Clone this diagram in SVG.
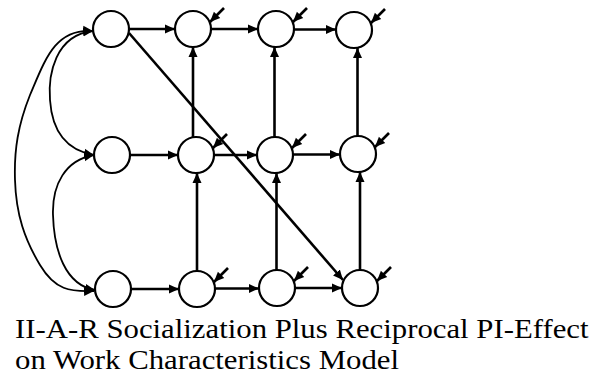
<svg xmlns="http://www.w3.org/2000/svg" width="612" height="381" viewBox="0 0 612 381">
<style>
.node circle{fill:#fff;stroke:#000;stroke-width:2.2}
.arr{stroke:#000;stroke-width:2.6;fill:none;marker-end:url(#ah)}
.err{stroke:#000;stroke-width:2.6;fill:none;marker-end:url(#ah)}
.cor{stroke:#000;stroke-width:1.8;fill:none;marker-start:url(#ah);marker-end:url(#ah)}
</style>
<defs>
<marker id="ah" markerUnits="userSpaceOnUse" markerWidth="11" markerHeight="10" refX="10" refY="5" orient="auto-start-reverse">
<path d="M0,0.5 L10,5 L0,9.5 z" fill="#000"/>
</marker>
</defs>
<g id="connectors">
<path class="cor" d="M93,31 C55,28 45,60 30,95 C18,125 14,150 15,180 C16,215 25,240 40,265 C55,290 70,292 94,291"/>
<path class="cor" d="M93,31 C55,35 48,75 50,100 C52,130 65,150 94,155"/>
<path class="cor" d="M94,155 C65,160 52,185 53,215 C54,250 65,285 95,290"/>
<line class="arr" x1="129" y1="29" x2="175" y2="29"/>
<line class="arr" x1="211" y1="29" x2="258" y2="29"/>
<line class="arr" x1="294" y1="29.5" x2="336" y2="29.5"/>
<line class="arr" x1="130" y1="155" x2="178" y2="155"/>
<line class="arr" x1="214" y1="155" x2="257" y2="155"/>
<line class="arr" x1="293" y1="154.5" x2="340" y2="154.5"/>
<line class="arr" x1="131" y1="289" x2="179" y2="289"/>
<line class="arr" x1="215" y1="288.5" x2="259" y2="288.5"/>
<line class="arr" x1="295" y1="288" x2="342" y2="288"/>
<line class="arr" x1="193" y1="137" x2="193" y2="47"/>
<line class="arr" x1="197" y1="271" x2="197" y2="173"/>
<line class="arr" x1="274.5" y1="137" x2="274.5" y2="47"/>
<line class="arr" x1="276.5" y1="270" x2="276.5" y2="173"/>
<line class="arr" x1="357.5" y1="136" x2="357.5" y2="48"/>
<line class="arr" x1="360" y1="270" x2="360" y2="172"/>
<line class="arr" x1="129" y1="33" x2="343" y2="280"/>
<line class="err" x1="224" y1="8" x2="210" y2="22"/>
<line class="err" x1="307" y1="8" x2="293" y2="22"/>
<line class="err" x1="385" y1="9" x2="371" y2="23"/>
<line class="err" x1="227" y1="134" x2="213" y2="148"/>
<line class="err" x1="306" y1="134" x2="292" y2="148"/>
<line class="err" x1="389" y1="133" x2="375" y2="147"/>
<line class="err" x1="228" y1="268" x2="214" y2="282"/>
<line class="err" x1="308" y1="267" x2="294" y2="281"/>
<line class="err" x1="391" y1="267" x2="377" y2="281"/>
</g>
<g id="A1" class="node"><circle cx="111" cy="29" r="18"/></g>
<g id="A2" class="node"><circle cx="193" cy="29" r="18"/></g>
<g id="A3" class="node"><circle cx="276" cy="29" r="18"/></g>
<g id="A4" class="node"><circle cx="354" cy="30" r="18"/></g>
<g id="B1" class="node"><circle cx="112" cy="155" r="18"/></g>
<g id="B2" class="node"><circle cx="196" cy="155" r="18"/></g>
<g id="B3" class="node"><circle cx="275" cy="155" r="18"/></g>
<g id="B4" class="node"><circle cx="358" cy="154" r="18"/></g>
<g id="C1" class="node"><circle cx="113" cy="289" r="18"/></g>
<g id="C2" class="node"><circle cx="197" cy="289" r="18"/></g>
<g id="C3" class="node"><circle cx="277" cy="288" r="18"/></g>
<g id="C4" class="node"><circle cx="360" cy="288" r="18"/></g>
<g id="caption" font-family="Liberation Serif, Times New Roman, serif" font-size="27" fill="#000" transform="translate(15,0) scale(1.14,1)">
<text x="0" y="338">II-A-R Socialization Plus Reciprocal PI-Effect</text>
<text x="0" y="369">on Work Characteristics Model</text>
</g>
</svg>
